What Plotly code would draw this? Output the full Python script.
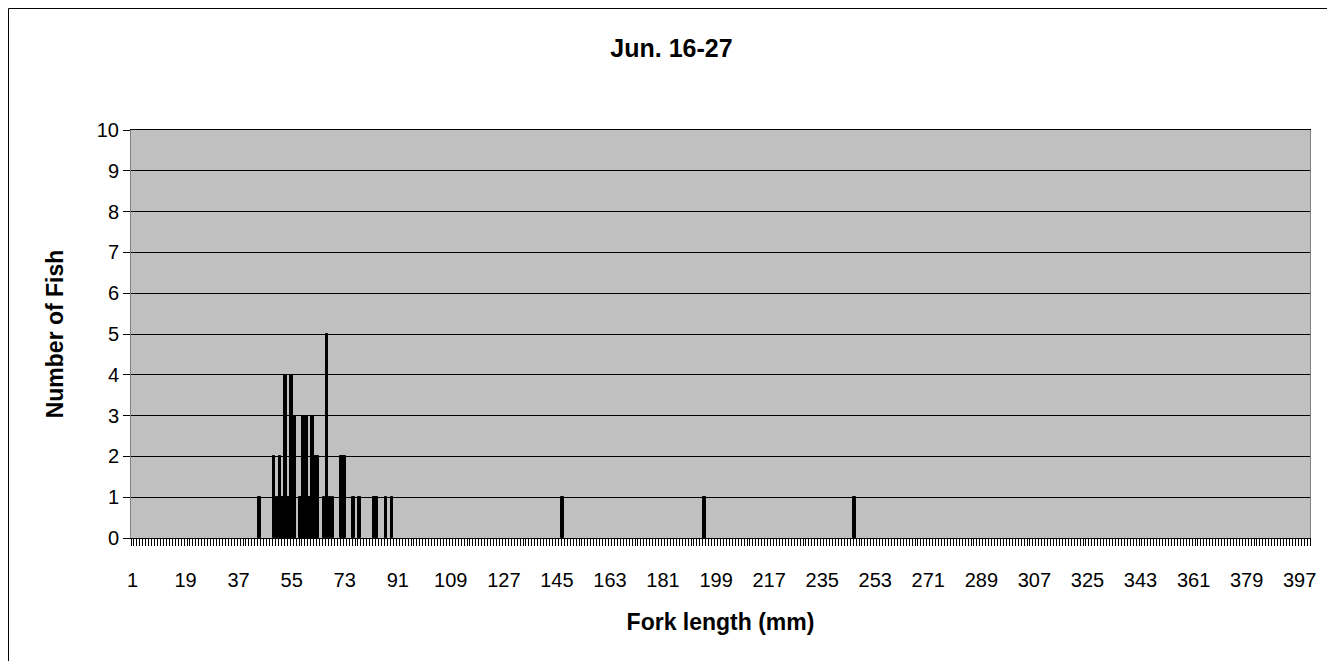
import plotly.graph_objects as go

fork_length = [44, 49, 50, 51, 52, 53, 54, 55, 56, 58, 59, 60, 61, 62, 63,
               64, 66, 67, 68, 69, 72, 73, 76, 78, 83, 84, 87, 89,
               147, 195, 246]
n_fish = [1, 2, 1, 2, 1, 4, 1, 4, 3, 1, 3, 3, 1, 3, 2,
          2, 1, 5, 1, 1, 2, 2, 1, 1, 1, 1, 1, 1,
          1, 1, 1]

x_tick_vals = [1, 19, 37, 55, 73, 91, 109, 127, 145, 163, 181, 199, 217, 235,
               253, 271, 289, 307, 325, 343, 361, 379, 397]
y_tick_vals = [0, 1, 2, 3, 4, 5, 6, 7, 8, 9, 10]

font = "Liberation Sans, Arial, sans-serif"

fig = go.Figure(go.Bar(
    x=fork_length,
    y=n_fish,
    marker={"color": "black", "line": {"color": "black", "width": 1}},
    width=0.9,
))

# page body has an 8px margin, so the figure is sized to fit the window
fig.update_layout(
    width=1327, height=653,
    margin={"l": 123, "r": 25, "t": 122, "b": 123},
    paper_bgcolor="white",
    plot_bgcolor="#C0C0C0",
    showlegend=False,
    font={"family": font, "color": "black", "size": 20},
    title={"text": "<b>Jun. 16-27</b>", "x": 0.5, "xref": "container",
           "y": 0.938, "yanchor": "middle", "font": {"size": 25}},
    bargap=0,
)

fig.update_xaxes(
    range=[0.5, 400.5],
    tickmode="array", tickvals=x_tick_vals, ticktext=[str(v) for v in x_tick_vals],
    ticks="", ticklabelstandoff=24,
    minor={"tickmode": "linear", "tick0": 0.5, "dtick": 1, "ticks": "outside",
           "ticklen": 7, "tickcolor": "black", "tickwidth": 1, "showgrid": False},
    showgrid=False, zeroline=False,
    showline=True, linecolor="black", linewidth=1, mirror=True,
    title={"text": "<b>Fork length (mm)</b>", "standoff": 23, "font": {"size": 23}},
)

fig.update_yaxes(
    range=[0, 10],
    tickmode="array", tickvals=y_tick_vals,
    ticks="outside", ticklen=7, tickcolor="black",
    showgrid=True, gridcolor="black", gridwidth=1, zeroline=False,
    showline=True, linecolor="#808080", linewidth=1, mirror=True,
    title={"text": "<b>Number of Fish</b>", "standoff": 26, "font": {"size": 23}},
)

# outer chart border (bottom edge falls below the window)
fig.add_shape(type="rect", xref="paper", yref="paper",
              x0=-0.1039, x1=1.0195, y0=-0.33, y1=1.2978,
              line={"color": "black", "width": 1}, layer="below")

fig.write_html("out.html")
